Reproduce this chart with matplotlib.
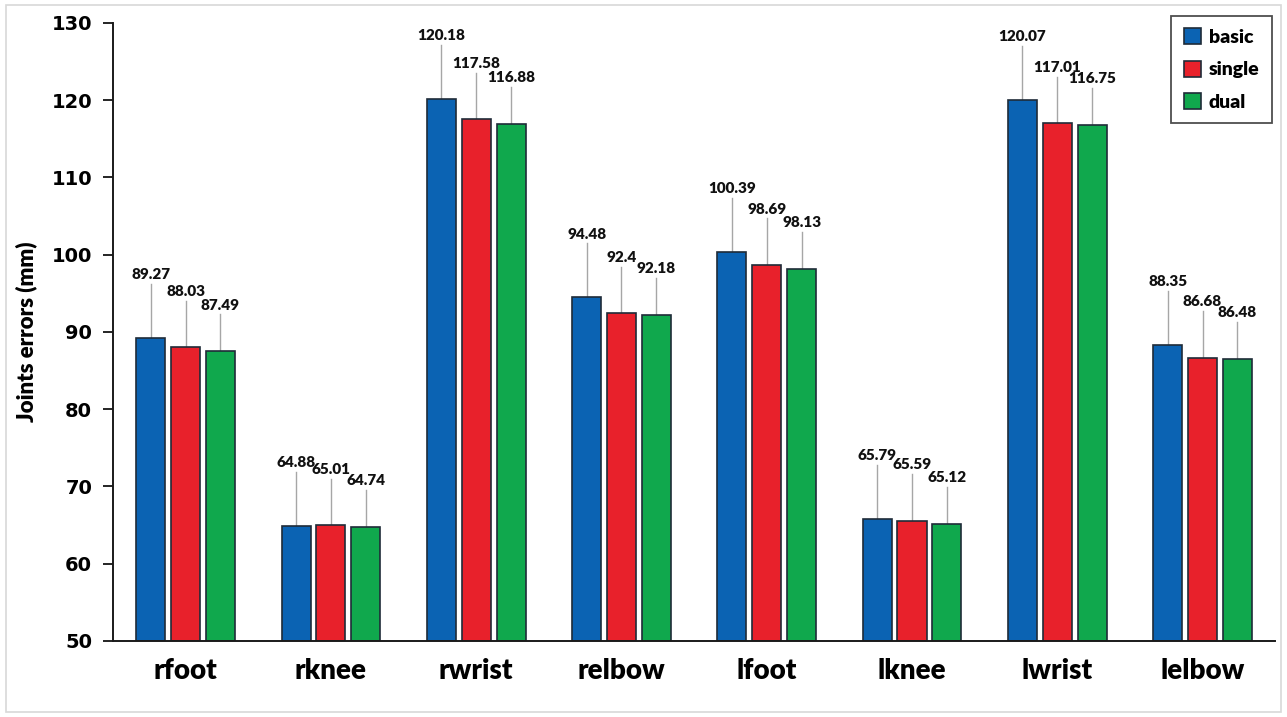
import matplotlib.pyplot as plt
import matplotlib.patches as mpatches
import numpy as np

joints = ["rfoot", "rknee", "rwrist", "relbow", "lfoot", "lknee", "lwrist", "lelbow"]
basic = [89.27, 64.88, 120.18, 94.48, 100.39, 65.79, 120.07, 88.35]
single = [88.03, 65.01, 117.58, 92.4, 98.69, 65.59, 117.01, 86.68]
dual = [87.49, 64.74, 116.88, 92.18, 98.13, 65.12, 116.75, 86.48]
yticks = [50, 60, 70, 80, 90, 100, 110, 120, 130]

series = [("basic", basic, "#0b63b3"), ("single", single, "#e8212b"), ("dual", dual, "#10a84d")]
leader = [7.0, 6.0, 4.8]  # length of callout lines
lab_font = "Lato"
wt = "heavy"

fig = plt.figure(figsize=(12.87, 7.17), dpi=100)
ax = fig.add_axes([0.0878, 0.106, 0.903, 0.862])

# light frame around the whole picture
fig.patches.append(mpatches.Rectangle((0.005, 0.007), 0.99, 0.986, transform=fig.transFigure,
                                      fill=False, edgecolor="#d8d8d8", linewidth=1.2))

x = np.arange(len(joints))
w = 0.2
step = 0.24
for i, (name, vals, col) in enumerate(series):
    pos = x + (i - 1) * step
    ax.bar(pos, np.array(vals) - 50, bottom=50, width=w, color=col, edgecolor="#1f2b38",
           linewidth=1.2, label=name, zorder=2)
    for p, v in zip(pos, vals):
        top = v + leader[i]
        ax.plot([p, p], [v, top], color="#a6a6a6", linewidth=1.0, zorder=1)
        ax.annotate(f"{v:g}", (p, top), xytext=(0, 2), textcoords="offset points",
                    ha="center", va="bottom", fontsize=11, fontweight=wt,
                    family=lab_font, color="#111111")

ax.set_xlim(-0.5, 7.5)
ax.set_ylim(50, 130)
ax.set_yticks(yticks)
ax.set_yticklabels([str(t) for t in yticks], fontsize=14, fontweight="bold", family="DejaVu Sans")
ax.set_xticks(x)
ax.set_xticklabels(joints, fontsize=20, fontweight=wt, family=lab_font)
ax.tick_params(axis="x", length=0, pad=12)
ax.tick_params(axis="y", length=7, width=1.2, direction="out", pad=8)
for s in ["top", "right"]:
    ax.spines[s].set_visible(False)
for s in ["left", "bottom"]:
    ax.spines[s].set_linewidth(1.4)
    ax.spines[s].set_color("#1a1a1a")

ax.set_ylabel("Joints errors (mm)", fontsize=16, fontweight=wt, family=lab_font, labelpad=10)

leg = ax.legend(loc="upper right", bbox_to_anchor=(0.9975, 1.012), frameon=True, fancybox=False,
                handlelength=0.9, handleheight=0.9, handletextpad=0.4, labelspacing=0.75,
                borderpad=0.65, borderaxespad=0.0,
                prop={"family": lab_font, "weight": wt, "size": 14})
leg.get_frame().set_edgecolor("#222222")
leg.get_frame().set_linewidth(1.3)

fig.savefig("out.png", dpi=100)
